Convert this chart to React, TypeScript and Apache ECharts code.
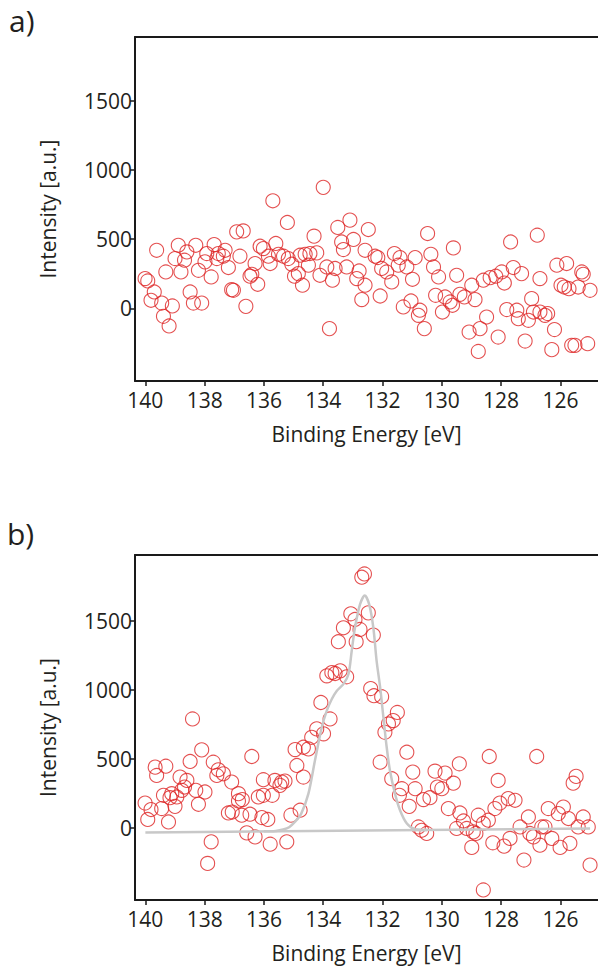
import React, { useEffect, useRef } from "react";
import * as echarts from "echarts";

const xTicks = [126, 128, 130, 132, 134, 136, 138, 140];
const yTicks = [0, 500, 1000, 1500];
const panelLabels = ["a)", "b)"];
const xAxisTitle = "Binding Energy [eV]";
const yAxisTitle = "Intensity [a.u.]";

// Panel a: measured points
const aEnergy = [
  134.0, 135.7, 135.21, 133.1, 133.51, 132.48, 136.92, 136.7, 134.31, 139.62,
  138.89, 138.3, 137.68, 138.6, 139.0, 138.68, 139.31, 138.8, 138.21, 137.99,
  137.93, 137.54, 137.31, 137.59, 137.37, 137.2, 136.81, 137.78, 140.01, 139.92,
  139.7, 139.81, 139.45, 139.09, 139.39, 139.2, 138.49, 138.38, 138.1, 137.09,
  137.03, 136.61, 136.41, 136.47, 136.21, 136.3, 136.13, 136.02, 135.6, 135.79,
  135.85, 135.51, 135.34, 135.18, 135.06, 134.97, 134.84, 134.7, 134.78, 134.61,
  134.45, 134.22, 134.5, 134.11, 133.88, 133.6, 133.69, 133.38, 133.32, 132.98,
  133.21, 132.87, 132.79, 132.7, 133.79, 132.59, 132.59, 130.48, 129.61, 127.68,
  126.78, 132.25, 132.16, 131.6, 131.41, 130.9, 130.37, 132.03, 131.86, 131.47,
  131.18, 131.69, 132.08, 130.99, 130.28, 130.11, 129.5, 130.21, 129.89, 129.72,
  129.64, 129.39, 129.24, 128.88, 128.99, 128.6, 128.37, 128.18, 127.98, 127.59,
  127.31, 127.89, 126.69, 131.3, 131.04, 130.74, 130.79, 130.59, 129.98, 129.08,
  128.71, 128.49, 128.77, 128.1, 127.81, 127.47, 127.42, 127.08, 126.97, 126.91,
  127.19, 126.69, 126.52, 126.43, 126.2, 126.29, 126.12, 125.79, 125.98, 125.87,
  125.71, 125.4, 125.0, 125.28, 125.23, 125.62, 125.51, 125.08,
];
const aIntensity = [
  875, 778, 621, 638, 585, 570, 553, 560, 522, 420,
  456, 456, 461, 408, 360, 348, 263, 263, 275, 336,
  396, 396, 420, 360, 377, 295, 377, 227, 215, 198,
  118, 58, 38, 17, -58, -128, 118, 38, 38, 135,
  130, 14, 246, 232, 174, 324, 449, 432, 469, 324,
  377, 391, 377, 360, 319, 232, 251, 167, 384, 391,
  396, 401, 312, 239, 299, 288, 203, 480, 425, 498,
  299, 215, 270, 63, -147, 420, 167, 541, 437, 480,
  529, 377, 367, 396, 367, 367, 391, 288, 263, 312,
  299, 191, 89, 210, 299, 227, 239, 94, 82, 46,
  22, 101, 82, 63, 167, 203, 222, 232, 263, 295,
  251, 183, 215, 10, 53, -14, -51, -147, -27, -172,
  -147, -63, -312, -208, -9, -14, -75, -87, 70, -27,
  -237, -27, -51, -38, -154, -299, 312, 324, 167, 154,
  142, 154, 130, 263, 246, -268, -268, -256,
];

// Panel b: measured points
const bEnergy = [
  132.7, 132.61, 133.07, 132.93, 133.32, 132.76, 132.48, 133.49, 132.89, 132.31,
  133.88, 133.71, 133.6, 133.43, 133.21, 134.08, 132.4, 132.29, 132.03, 133.77,
  134.22, 134.39, 133.99, 134.67, 134.5, 134.95, 134.89, 134.67, 134.78, 135.09,
  135.23, 135.79, 136.3, 136.58, 136.02, 136.41, 135.63, 135.4, 135.29, 135.46,
  135.72, 136.19, 136.07, 135.87, 136.47, 136.75, 136.86, 136.73, 137.07, 137.2,
  136.86, 137.09, 137.37, 137.54, 137.59, 137.71, 138.1, 138.41, 138.49, 138.3,
  137.99, 138.21, 137.78, 137.9, 138.83, 138.6, 138.68, 138.77, 139.11, 138.94,
  139.0, 139.17, 139.39, 139.45, 139.22, 139.67, 139.31, 139.62, 140.01, 139.81,
  139.92, 136.02, 131.5, 131.64, 131.8, 131.92, 132.08, 131.18, 131.69, 130.98,
  131.35, 131.43, 131.1, 130.9, 130.79, 130.68, 130.51, 130.62, 130.4, 130.23,
  129.89, 130.15, 130.0, 129.61, 129.41, 129.78, 129.39, 129.27, 129.5, 129.16,
  128.94, 128.85, 128.99, 128.77, 128.6, 128.43, 128.4, 128.1, 128.28, 127.9,
  127.7, 128.21, 128.04, 127.76, 127.53, 128.6, 127.36, 127.08, 127.03, 126.91,
  127.23, 126.8, 126.63, 126.52, 126.69, 126.29, 126.41, 126.07, 125.9, 125.73,
  126.01, 125.68, 125.57, 125.47, 125.23, 125.4, 125.06, 125.0,
];
const bIntensity = [
  1815, 1839, 1550, 1509, 1449, 1437, 1557, 1348, 1348, 1396,
  1101, 1125, 1118, 1137, 1094, 908, 1009, 957, 950, 789,
  717, 656, 681, 584, 572, 567, 452, 368, 128, 92,
  -101, -118, -65, -36, 349, 517, 344, 332, 339, 308,
  236, 224, 75, 61, 99, 92, 195, 205, 115, 108,
  248, 332, 392, 421, 380, 476, 565, 789, 481, 272,
  260, 171, -101, -257, 368, 344, 296, 272, 248, 224,
  156, 219, 236, 140, 43, 440, 447, 380, 180, 133,
  61, 236, 836, 777, 753, 692, 476, 548, 356, 404,
  284, 236, 156, 284, 7, -17, -40, 205, 219, 411,
  397, 296, 284, 324, 464, 140, 108, 50, -4, -4,
  -29, -40, -141, 92, 32, 56, 517, 344, -108, -132,
  -76, 140, 180, 212, 200, -449, 7, 79, -40, -65,
  -233, 517, 7, 7, -125, -76, 140, 104, 151, 68,
  -141, -112, 324, 373, 79, 7, 7, -269,
];

// Panel b: fitted envelope and background
const fitEnergy = [
  136.0, 135.6, 135.35, 135.15, 134.95, 134.75, 134.5, 134.28, 134.05, 133.88,
  133.71, 133.54, 133.32, 133.15, 133.04, 132.93, 132.76, 132.6, 132.45, 132.31,
  132.2, 132.08, 131.97, 131.86, 131.75, 131.58, 131.41, 131.18, 130.9, 130.5,
];
const fitIntensity = [
  -25, -22, -12, 5, 45, 100, 248, 488, 728, 849,
  933, 993, 1041, 1113, 1281, 1449, 1618, 1683, 1618, 1449,
  1209, 1017, 800, 584, 416, 248, 128, 32, -10, -16,
];
const baselineEnergy = [140.0, 125.0];
const baselineIntensity = [-33, -4];

const TEXT = "#231f20";
const AXIS = "#1a1a1a";
const RED = "#dd2424";
const FONT = "Open Sans";

export default function App() {
  const ref = useRef<HTMLDivElement>(null);

  useEffect(() => {
    document.body.style.margin = "0";
    if (!ref.current) return;
    const chart = echarts.init(ref.current, undefined, { renderer: "svg" });

    const grids = [
      { left: 135, top: 37, width: 463, height: 344 },
      { left: 135, top: 555, width: 463, height: 345 },
    ];
    const xMin = 140 - (598 - 145.3) / 29.65;
    const xMax = 140.35;
    const yRanges = [
      [-526, 1963],
      [-522, 1976],
    ];

    const xAxes: any[] = [];
    const yAxes: any[] = [];
    grids.forEach((_, i) => {
      xAxes.push({
        type: "value",
        gridIndex: i,
        min: xMin,
        max: xMax,
        inverse: true,
        position: "bottom",
        axisLine: { show: true, onZero: false, lineStyle: { color: AXIS, width: 2 } },
        axisTick: { show: true, customValues: xTicks, length: 5, lineStyle: { color: AXIS, width: 1.5 } },
        axisLabel: {
          customValues: xTicks,
          margin: 8,
          fontSize: 21,
          color: TEXT,
          fontFamily: FONT,
          formatter: (v: number) => String(v),
        },
        splitLine: { show: false },
        name: xAxisTitle,
        nameLocation: "middle",
        nameGap: 42,
        nameTextStyle: { fontSize: 21, color: TEXT, fontFamily: FONT },
      });
      xAxes.push({
        type: "value",
        gridIndex: i,
        min: xMin,
        max: xMax,
        inverse: true,
        position: "top",
        axisLine: { show: true, onZero: false, lineStyle: { color: AXIS, width: 2 } },
        axisTick: { show: false },
        axisLabel: { show: false },
        splitLine: { show: false },
      });
      yAxes.push({
        type: "value",
        gridIndex: i,
        min: yRanges[i][0],
        max: yRanges[i][1],
        axisLine: { show: true, onZero: false, lineStyle: { color: AXIS, width: 2 } },
        axisTick: { show: true, customValues: yTicks, length: 5, lineStyle: { color: AXIS, width: 1.5 } },
        axisLabel: {
          customValues: yTicks,
          margin: 3,
          fontSize: 21,
          color: TEXT,
          fontFamily: FONT,
          formatter: (v: number) => String(v),
        },
        splitLine: { show: false },
        name: yAxisTitle,
        nameLocation: "middle",
        nameGap: 77,
        nameTextStyle: { fontSize: 21, color: TEXT, fontFamily: FONT },
      });
    });

    const scatterStyle = {
      type: "scatter",
      symbol: "circle",
      symbolSize: 14,
      itemStyle: { color: "rgba(0,0,0,0)", borderColor: RED, borderWidth: 1.1 },
      silent: true,
    };

    chart.setOption({
      animation: false,
      backgroundColor: "#ffffff",
      grid: grids.map((g) => ({ ...g, show: false, containLabel: false })),
      xAxis: xAxes,
      yAxis: yAxes,
      graphic: [
        { type: "text", left: 9, top: 5, style: { text: panelLabels[0], fontSize: 30, fill: TEXT, fontFamily: FONT } },
        { type: "text", left: 7, top: 518, style: { text: panelLabels[1], fontSize: 30, fill: TEXT, fontFamily: FONT } },
      ],
      series: [
        {
          ...scatterStyle,
          xAxisIndex: 0,
          yAxisIndex: 0,
          data: aEnergy.map((e, i) => [e, aIntensity[i]]),
        },
        {
          ...scatterStyle,
          xAxisIndex: 2,
          yAxisIndex: 1,
          data: bEnergy.map((e, i) => [e, bIntensity[i]]),
        },
        {
          type: "line",
          xAxisIndex: 2,
          yAxisIndex: 1,
          data: baselineEnergy.map((e, i) => [e, baselineIntensity[i]]),
          showSymbol: false,
          lineStyle: { color: "#c8c8c8", width: 2.5 },
          z: 3,
        },
        {
          type: "line",
          xAxisIndex: 2,
          yAxisIndex: 1,
          data: fitEnergy.map((e, i) => [e, fitIntensity[i]]),
          showSymbol: false,
          smooth: 0.3,
          lineStyle: { color: "#c8c8c8", width: 2.5 },
          z: 3,
        },
      ],
    });

    return () => chart.dispose();
  }, []);

  return <div ref={ref} style={{ width: 598, height: 968 }} />;
}
